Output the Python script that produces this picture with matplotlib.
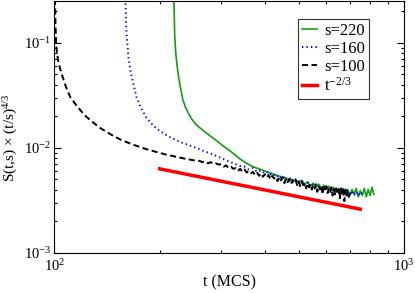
import numpy as np
import matplotlib
matplotlib.use("Agg")
import matplotlib.pyplot as plt
from matplotlib.ticker import NullFormatter

plt.rcParams['font.family'] = ['Liberation Serif', 'DejaVu Serif']
plt.rcParams['mathtext.fontset'] = 'custom'
plt.rcParams['mathtext.rm'] = 'Liberation Serif'
plt.rcParams['mathtext.it'] = 'Liberation Serif'

# s = 100 (black dashed): steep start, then noisy tail
t100 = [100.4, 100.8, 101.3, 102.5, 104, 105.5, 108, 111, 116, 122, 128, 135,
        145, 155, 168, 185, 209, 235, 250,
        260, 265, 270, 275, 280, 285, 290, 295,
        300, 305, 310, 315, 320, 325, 330, 335, 340, 345, 350, 355, 360, 365,
        370, 375, 380, 385, 390, 395, 400, 405, 410, 415, 420, 425, 430, 435,
        440, 445, 450, 455, 460, 465, 470, 475, 480, 485, 490, 495, 500, 505,
        510, 515, 520, 525, 530, 535, 540, 545, 550, 555, 560, 565, 570, 575,
        580, 585, 590, 595, 600, 605, 610, 615, 620, 625, 630, 635, 640, 645,
        650, 655, 660, 665, 670, 675, 680, 685, 690, 695, 700]
S100 = [0.30, 0.15, 0.092, 0.068, 0.056, 0.048, 0.038, 0.0305, 0.025, 0.0205,
        0.0178, 0.0155, 0.0134, 0.0119, 0.0107, 0.0096, 0.0086, 0.0079, 0.0076,
        0.0075, 0.0073, 0.0074, 0.0071, 0.0073, 0.0070, 0.0071, 0.0069,
        0.0070, 0.0066, 0.0068, 0.0064, 0.0066, 0.0063, 0.0064, 0.0060, 0.0063,
        0.0059, 0.0062, 0.0058, 0.0060, 0.0057, 0.0059, 0.0055, 0.0058, 0.0054,
        0.0057, 0.0053, 0.0056, 0.0052, 0.0055, 0.0050, 0.0054, 0.0051, 0.0053,
        0.0048, 0.0053, 0.0049, 0.0052, 0.0046, 0.0051, 0.0047, 0.0050, 0.0045,
        0.0049, 0.0046, 0.0049, 0.0044, 0.0048, 0.0043, 0.0047, 0.0044, 0.0046,
        0.0041, 0.0046, 0.0042, 0.0045, 0.0040, 0.0044, 0.0041, 0.0045, 0.0038,
        0.0043, 0.0040, 0.0044, 0.0036, 0.0042, 0.0039, 0.0043, 0.0037, 0.0041,
        0.0038, 0.0042, 0.0035, 0.0040, 0.0036, 0.0041, 0.0037, 0.0040, 0.0033,
        0.0041, 0.0036, 0.0039, 0.0031, 0.0040, 0.0035, 0.0038, 0.0034, 0.0037]

# s = 160 (blue dotted)
t160 = [159.6, 160.3, 161.1, 163, 165.5, 168.2, 172, 176, 183, 192, 200, 212,
        230, 250, 270, 285, 310, 340,
        350, 360, 370, 380, 390, 400, 410, 420, 430, 440, 450, 460, 470, 480,
        490, 500, 510, 520, 530, 540, 550, 560, 570, 580, 590, 600, 610, 620,
        630, 640, 650, 660, 670, 680, 690, 700, 710, 720, 730, 740, 750, 760]
S160 = [0.30, 0.16, 0.116, 0.072, 0.052, 0.041, 0.030, 0.025, 0.0195, 0.0162,
        0.0145, 0.0128, 0.0113, 0.0102, 0.0092, 0.0086, 0.0076, 0.0067,
        0.0066, 0.0062, 0.0064, 0.0059, 0.0061, 0.0057, 0.0059, 0.0054, 0.0056,
        0.0051, 0.0054, 0.0049, 0.0052, 0.0047, 0.0050, 0.0046, 0.0048, 0.0044,
        0.0047, 0.0042, 0.0045, 0.0041, 0.0044, 0.0040, 0.0043, 0.0039, 0.0042,
        0.0038, 0.0041, 0.0037, 0.0040, 0.0036, 0.0040, 0.0036, 0.0039, 0.0035,
        0.0039, 0.0035, 0.0038, 0.0035, 0.0038, 0.0036]

# s = 220 (green solid)
t220 = [219.5, 220.2, 221, 222.5, 224.5, 227, 230, 233, 237, 242, 247, 253,
        260, 268, 278, 290, 304, 320, 340, 355, 370, 400, 430, 462,
        490, 500, 510, 520, 530, 540, 550, 560, 570, 580, 590, 600, 610, 620,
        630, 640, 650, 660, 670, 680, 690, 700, 710, 720, 730, 740, 750, 760,
        770, 780, 790, 800, 810, 820]
S220 = [0.30, 0.20, 0.116, 0.080, 0.060, 0.046, 0.036, 0.0290, 0.0245, 0.0212,
        0.0188, 0.0170, 0.0156, 0.0144, 0.0131, 0.0118, 0.0104, 0.0092, 0.0078,
        0.0071, 0.0066, 0.0060, 0.0055, 0.0051,
        0.0049, 0.0047, 0.0049, 0.0045, 0.0047, 0.0043, 0.0046, 0.0042, 0.0045,
        0.0041, 0.0044, 0.0040, 0.0043, 0.0039, 0.0042, 0.0038, 0.0041, 0.0037,
        0.0041, 0.0036, 0.0040, 0.0035, 0.0040, 0.0036, 0.0041, 0.0034, 0.0039,
        0.0035, 0.0041, 0.0034, 0.0040, 0.0035, 0.0042, 0.0036]

# t^(-2/3) guide line
t_fit = [200, 750]
S_fit = [0.0063, 0.0026]

fig = plt.figure(figsize=(4.15, 2.93), dpi=100)
ax = fig.add_axes([0.1308, 0.1375, 0.8427, 0.859])

ax.plot(t220, S220, color='#169b16', lw=1.2, label='s=220')
ax.plot(t160, S160, color='#0000ff', lw=1.4, ls=(0, (0.7, 1.6)), label='s=160')
ax.plot(t100, S100, color='black', lw=1.4, ls=(0, (3.1, 1.8)), label='s=100')
ax.plot(t_fit, S_fit, color='#ff0000', lw=2.5, label='t$^{-2/3}$')

ax.set_xscale('log')
ax.set_yscale('log')
ax.set_xlim(100, 1000)
ax.set_ylim(1e-3, 0.25)
ax.xaxis.set_minor_formatter(NullFormatter())
ax.yaxis.set_minor_formatter(NullFormatter())

ax.tick_params(which='both', direction='in', top=True, right=True,
               labelsize=10.5, width=0.8)
ax.tick_params(which='major', length=5, pad=2)
ax.tick_params(which='minor', length=2.5)
ax.tick_params(axis='x', which='major', pad=4)
for sp in ax.spines.values():
    sp.set_linewidth(0.8)

ax.set_xlabel('t (MCS)', fontsize=11.5, labelpad=0)
ax.set_ylabel('S(t,s) \u00d7 (t/s)$^{4/3}$', fontsize=11)
ax.yaxis.set_label_coords(-0.098, 0.456)

leg = ax.legend(loc='upper right', bbox_to_anchor=(0.901, 0.929), fontsize=12,
                handlelength=0.9, handletextpad=0.46, labelspacing=0.12,
                borderpad=0.25, borderaxespad=0, fancybox=False, frameon=True)
leg.get_frame().set_edgecolor('black')
leg.get_frame().set_linewidth(0.8)

fig.savefig('out.png', dpi=100)
